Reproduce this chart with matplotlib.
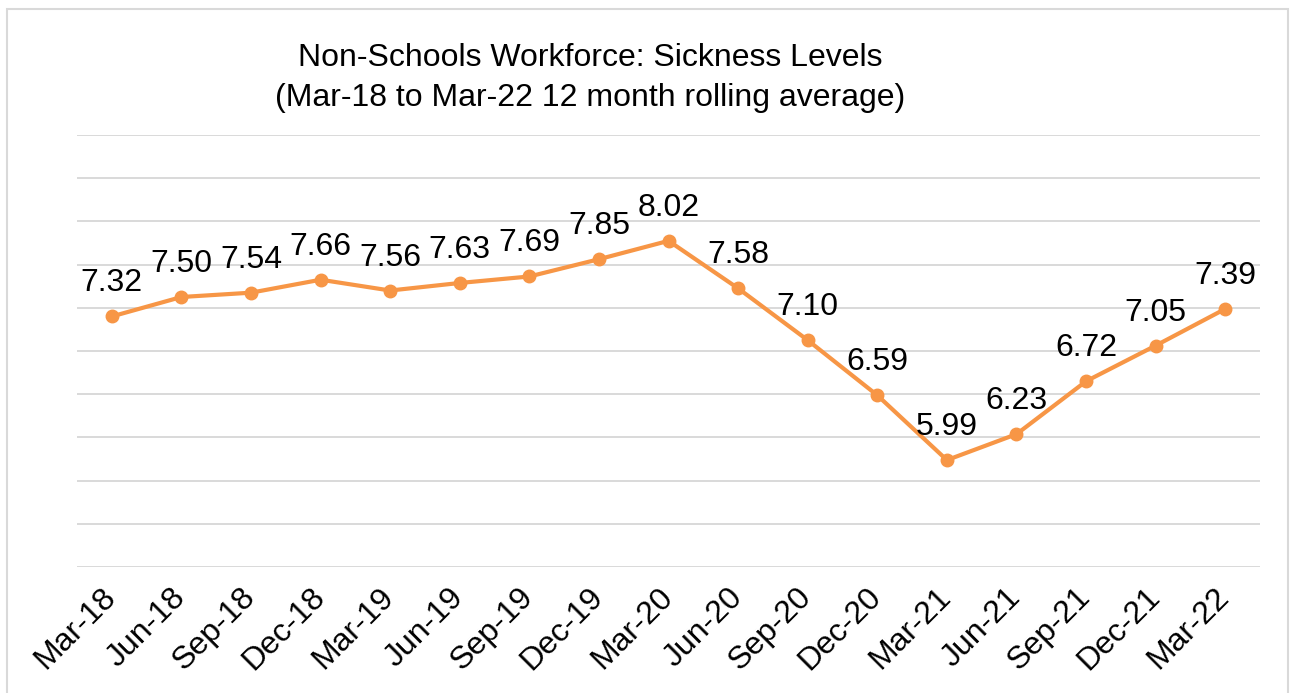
import matplotlib.pyplot as plt
import matplotlib.transforms as mtransforms
import numpy as np
from matplotlib.patches import Rectangle

plt.rcParams['font.family'] = ['Liberation Sans', 'DejaVu Sans']

# data
periods = ['Mar-18', 'Jun-18', 'Sep-18', 'Dec-18', 'Mar-19', 'Jun-19', 'Sep-19',
           'Dec-19', 'Mar-20', 'Jun-20', 'Sep-20', 'Dec-20', 'Mar-21', 'Jun-21',
           'Sep-21', 'Dec-21', 'Mar-22']
sickness = [7.32, 7.50, 7.54, 7.66, 7.56, 7.63, 7.69, 7.85, 8.02, 7.58, 7.10,
            6.59, 5.99, 6.23, 6.72, 7.05, 7.39]

orange = '#F79646'
grid = '#D9D9D9'

fig = plt.figure(figsize=(12.95, 6.93), dpi=100)
ax = fig.add_axes([0.0595, 0.1818, 0.9135, 0.6234])

x = np.arange(len(periods))
ax.plot(x, sickness, color=orange, lw=3, marker='o', ms=9, zorder=3)
for xi, v in zip(x, sickness):
    ax.annotate(f'{v:.2f}', (xi, v), xytext=(0, 18), textcoords='offset points',
                ha='center', va='baseline', fontsize=23)

ax.set_xlim(-0.5, len(periods) - 0.5)
ax.set_ylim(5, 9)
ax.set_yticks(np.arange(5, 9.01, 0.4))
ax.set_yticklabels([])
ax.tick_params(axis='y', length=0)
ax.grid(axis='y', color=grid, lw=1.4)
ax.set_axisbelow(True)
for s in ax.spines.values():
    s.set_visible(False)

ax.set_xticks(x)
ax.set_xticklabels(periods, rotation=45, ha='right', va='top',
                   rotation_mode='anchor', fontsize=23)
ax.tick_params(axis='x', length=0, pad=11)
shift = mtransforms.ScaledTranslation(-0.11, 0, fig.dpi_scale_trans)
for lbl in ax.get_xticklabels():
    lbl.set_transform(lbl.get_transform() + shift)

fig.text(0.4556, 0.916, 'Non-Schools Workforce: Sickness Levels',
         ha='center', va='center', fontsize=23)
fig.text(0.4556, 0.858, '(Mar-18 to Mar-22 12 month rolling average)',
         ha='center', va='center', fontsize=23)

fig.patches.append(Rectangle((7 / 1295, -0.05), 1281 / 1295, 1 - 9 / 693 + 0.05,
                             transform=fig.transFigure, fill=False,
                             edgecolor=grid, lw=1.5))

fig.savefig('out.png', dpi=100)
